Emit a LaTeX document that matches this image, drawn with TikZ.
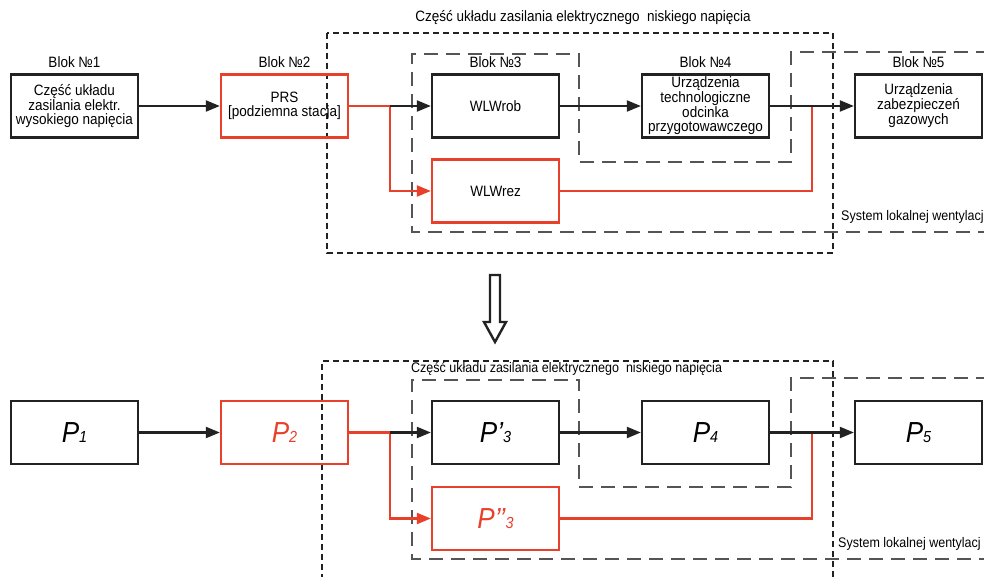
\documentclass[tikz,border=0pt]{standalone}
\usepackage{fontspec}
\setmainfont[FakeStretch=0.9]{Liberation Sans}
\usetikzlibrary{arrows.meta}
\definecolor{myred}{RGB}{232,64,42}
\definecolor{dk}{RGB}{34,34,34}
\definecolor{dgray}{RGB}{85,85,85}
\newcommand\Plab[2]{{\fontsize{29}{29}\selectfont\itshape P#1}{\fontsize{16}{16}\selectfont\itshape #2}}
\begin{document}
\begin{tikzpicture}[x=1pt,y=-1pt,
  blk/.style={draw=dk,line width=2.3pt,minimum width=127pt,minimum height=63pt,inner sep=1pt,align=center,font=\fontsize{15}{13.8}\selectfont},
  redblk/.style={blk,draw=myred},
  conn/.style={draw=dk,line width=2.1pt},
  rconn/.style={draw=myred,line width=2.1pt},
  arr/.style={-{Triangle[length=14pt,width=11pt]}},
  outerbox/.style={draw=dk,line width=1.2pt,dash pattern=on 6pt off 4pt},
  innerbox/.style={draw=dgray,line width=1.7pt,dash pattern=on 14pt off 8pt},
  lbl/.style={font=\fontsize{15}{15}\selectfont,inner sep=0pt},
  small/.style={font=\fontsize{13.9}{13.9}\selectfont,inner sep=0pt}
]
\useasboundingbox (0,0) rectangle (984,577);

% ---------------- top part ----------------
\draw[outerbox] (327,33) rectangle (833,253);
\node[lbl] (T1) at (583,18) {Część układu zasilania elektrycznego\ \ niskiego napięcia};
\draw[innerbox] (990,52) -- (791,52) -- (791,162) -- (579,162) -- (579,54) -- (412,54) -- (412,232) -- (990,232);
\node[small,anchor=west] (S1) at (841,217) {System lokalnej wentylacj};

\node[blk] (B1) at (74.5,106) {Część układu\\zasilania elektr.\\wysokiego napięcia};
\node[redblk] (B2) at (284.5,106) {PRS\\{[podziemna stacja]}};
\node[blk] (B3) at (495.5,106) {WLWrob};
\node[redblk] (B3r) at (495.5,191) {WLWrez};
\node[blk] (B4) at (705.5,106) {Urządzenia\\technologiczne\\odcinka\\przygotowawczego};
\node[blk] (B5) at (918.5,106) {Urządzenia\\zabezpieczeń\\gazowych};

\node[lbl] (L1) at (74.5,62) {Blok №1};
\node[lbl] (L2) at (284.5,62) {Blok №2};
\node[lbl] (L3) at (495.5,62) {Blok №3};
\node[lbl] (L4) at (705.5,62) {Blok №4};
\node[lbl] (L5) at (918.5,62) {Blok №5};

\coordinate (j1) at (390,106);
\coordinate (j2) at (812,106);
\draw[conn,arr] (B1) -- (B2);
\draw[rconn] (B2.east) -- (j1);
\draw[rconn,arr] (j1) |- (B3r.west);
\draw[rconn] (B3r.east) -| (j2);
\draw[conn,arr] (j1) -- (B3.west);
\draw[conn,arr] (B3) -- (B4);
\draw[conn,arr] (B4) -- (B5);

% ---------------- transition arrow ----------------
\draw[draw=dk,line width=2.4pt,line join=miter,fill=white] (490,275) -- (500,275) -- (500,322) -- (506,322) -- (495,342) -- (484,322) -- (490,322) -- cycle;

% ---------------- bottom part ----------------
\draw[outerbox] (322,590) -- (322,361) -- (833,361) -- (833,590);
\node[small,anchor=west] (T2) at (411,369) {Część układu zasilania elektrycznego\ \ niskiego napięcia};
\draw[innerbox] (990,378) -- (791,378) -- (791,487) -- (579,487) -- (579,380) -- (412,380) -- (412,559) -- (990,559);
\node[small,anchor=west] (S2) at (838,544) {System lokalnej wentylacj};

\node[blk] (P1) at (74.5,432.5) {\Plab{}{1}};
\node[redblk,text=myred] (P2) at (284.5,432.5) {\Plab{}{2}};
\node[blk] (P3) at (495.5,432.5) {\Plab{’}{3}};
\node[redblk,text=myred] (P3r) at (495.5,518.5) {\Plab{’’}{3}};
\node[blk] (P4) at (705.5,432.5) {\Plab{}{4}};
\node[blk] (P5) at (918.5,432.5) {\Plab{}{5}};

\coordinate (k1) at (390,432.5);
\coordinate (k2) at (812,432.5);
\draw[conn,arr] (P1) -- (P2);
\draw[rconn] (P2.east) -- (k1);
\draw[rconn,arr] (k1) |- (P3r.west);
\draw[rconn] (P3r.east) -| (k2);
\draw[conn,arr] (k1) -- (P3.west);
\draw[conn,arr] (P3) -- (P4);
\draw[conn,arr] (P4) -- (P5);
\end{tikzpicture}
\end{document}
